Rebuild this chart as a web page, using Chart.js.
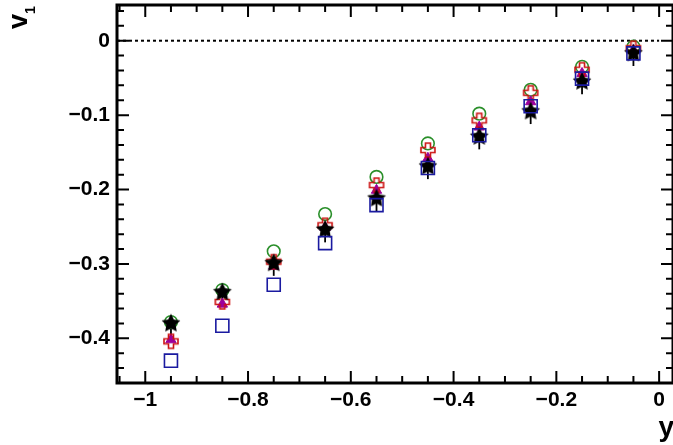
<!DOCTYPE html>
<html><head><meta charset="utf-8">
<script src="https://cdn.jsdelivr.net/npm/chart.js@4/dist/chart.umd.min.js"></script>
<style>html,body{margin:0;padding:0;background:#fff;overflow:hidden}</style>
</head><body>
<canvas id="c" width="673" height="445"></canvas>
<script>
// ---- data ----
const rapidity = [-0.95, -0.85, -0.75, -0.65, -0.55, -0.45, -0.35, -0.25, -0.15, -0.05];
const v1GreenCircle  = [-0.378, -0.335, -0.283, -0.233, -0.183, -0.138, -0.098, -0.066, -0.035, -0.008];
const v1RedCross     = [-0.404, -0.351, -0.297, -0.248, -0.194, -0.147, -0.107, -0.070, -0.039, -0.010];
const v1MagentaTri   = [-0.402, -0.354, -0.303, -0.251, -0.201, -0.158, -0.116, -0.082, -0.044, -0.013];
const v1BlackStar    = [-0.380, -0.338, -0.299, -0.254, -0.212, -0.169, -0.129, -0.095, -0.055, -0.017];
const v1BlackStarErrUp   = [0.008, 0.008, 0.008, 0.008, 0.008, 0.008, 0.008, 0.008, 0.008, 0.008];
const v1BlackStarErrDown = [0.017, 0.017, 0.017, 0.017, 0.017, 0.017, 0.017, 0.017, 0.017, 0.017];
const v1BlueSquare   = [-0.430, -0.383, -0.328, -0.272, -0.221, -0.171, -0.127, -0.088, -0.051, -0.017];
const xTickValues = [-1, -0.8, -0.6, -0.4, -0.2, 0];
const xTickLabels = ['\u22121', '\u22120.8', '\u22120.6', '\u22120.4', '\u22120.2', '0'];
const yTickValues = [0, -0.1, -0.2, -0.3, -0.4];
const yTickLabels = ['0', '\u22120.1', '\u22120.2', '\u22120.3', '\u22120.4'];
const X_MIN = -1.055, X_MAX = 0.027, Y_MIN = -0.460, Y_MAX = 0.048;
const zeroLineX = [X_MIN, 0];

const pts = (xs, ys) => xs.map((x, i) => ({x: x, y: ys[i]}));

// ---- marker images ----
function makeStar(R, r, color) {
  const s = Math.ceil(2 * R + 2);
  const cv = document.createElement('canvas'); cv.width = s; cv.height = s;
  const g = cv.getContext('2d'); const c = s / 2;
  g.beginPath();
  for (let k = 0; k < 10; k++) {
    const rad = (k % 2 === 0) ? R : r;
    const a = -Math.PI / 2 + k * Math.PI / 5;
    const px = c + rad * Math.cos(a), py = c + rad * Math.sin(a);
    if (k === 0) g.moveTo(px, py); else g.lineTo(px, py);
  }
  g.closePath(); g.fillStyle = color; g.fill();
  return cv;
}
function makeOpenCross(S, T, color, lw) {
  const s = S + 4;
  const cv = document.createElement('canvas'); cv.width = s; cv.height = s;
  const g = cv.getContext('2d'); const c = s / 2; const h = S / 2, t = T / 2;
  g.beginPath();
  const p = [[-t,-h],[t,-h],[t,-t],[h,-t],[h,t],[t,t],[t,h],[-t,h],[-t,t],[-h,t],[-h,-t],[-t,-t]];
  p.forEach((q, i) => { if (i === 0) g.moveTo(c + q[0], c + q[1]); else g.lineTo(c + q[0], c + q[1]); });
  g.closePath(); g.strokeStyle = color; g.lineWidth = lw; g.stroke();
  return cv;
}
const starImg = makeStar(9.8, 4.9, '#000');
const crossImg = makeOpenCross(14, 5, '#cc1111', 1.6);

const FONT = {family: '"Liberation Sans", Arial, Helvetica, sans-serif', size: 21, weight: 'bold'};

// ---- plugins ----
const errorBars = {
  id: 'errorBars',
  beforeDatasetsDraw(chart) {
    const ctx = chart.ctx, xs = chart.scales.x, ys = chart.scales.y;
    ctx.save(); ctx.strokeStyle = '#000'; ctx.lineWidth = 1.8;
    rapidity.forEach((x, i) => {
      const px = xs.getPixelForValue(x);
      ctx.beginPath();
      ctx.moveTo(px, ys.getPixelForValue(v1BlackStar[i] + v1BlackStarErrUp[i]));
      ctx.lineTo(px, ys.getPixelForValue(v1BlackStar[i] - v1BlackStarErrDown[i]));
      ctx.stroke();
    });
    ctx.restore();
  }
};

const frame = {
  id: 'frame',
  afterDraw(chart) {
    const ctx = chart.ctx, a = chart.chartArea, xs = chart.scales.x, ys = chart.scales.y;
    ctx.save();
    ctx.strokeStyle = '#000';
    ctx.lineWidth = 2;
    const MAJ = 12, MIN = 7;
    for (let k = Math.ceil(X_MIN / 0.05 - 1e-6); k * 0.05 <= X_MAX + 1e-9; k++) {
      const v = k * 0.05;
      const major = Math.abs(Math.round(v / 0.2) * 0.2 - v) < 1e-6;
      const L = major ? MAJ : MIN;
      const px = xs.getPixelForValue(v);
      ctx.beginPath();
      ctx.moveTo(px, a.bottom); ctx.lineTo(px, a.bottom - L);
      ctx.moveTo(px, a.top); ctx.lineTo(px, a.top + L);
      ctx.stroke();
    }
    for (let k = Math.ceil(Y_MIN / 0.02 - 1e-6); k * 0.02 <= Y_MAX + 1e-9; k++) {
      const v = k * 0.02;
      const major = Math.abs(Math.round(v / 0.1) * 0.1 - v) < 1e-6;
      const L = major ? MAJ : MIN;
      const py = ys.getPixelForValue(v);
      ctx.beginPath();
      ctx.moveTo(a.left, py); ctx.lineTo(a.left + L, py);
      ctx.moveTo(a.right, py); ctx.lineTo(a.right - L, py);
      ctx.stroke();
    }
    ctx.lineWidth = 3;
    ctx.strokeRect(a.left, a.top, a.right - a.left, a.bottom - a.top);
    ctx.fillStyle = '#000';
    ctx.font = 'bold 28px "Liberation Sans", Arial, sans-serif';
    ctx.textAlign = 'right'; ctx.textBaseline = 'alphabetic';
    ctx.fillText('y', 674, 436);
    ctx.save();
    ctx.translate(27, 29);
    ctx.rotate(-Math.PI / 2);
    ctx.textAlign = 'left';
    ctx.font = 'bold 27px "Liberation Sans", Arial, sans-serif';
    ctx.fillText('v', 0, 0);
    const w = ctx.measureText('v').width;
    ctx.font = 'bold 14px "Liberation Sans", Arial, sans-serif';
    ctx.fillText('1', w, 8);
    ctx.restore();
    ctx.restore();
  }
};

new Chart(document.getElementById('c'), {
  type: 'scatter',
  data: {
    datasets: [
      { label: 'zero', type: 'line', data: pts(zeroLineX, [0, 0]), borderColor: '#000', borderWidth: 2,
        borderDash: [3, 3], pointRadius: 0, fill: false, order: 10 },
      { label: 'green circle', data: pts(rapidity, v1GreenCircle), pointStyle: 'circle', pointRadius: 6.3,
        borderColor: '#2a8f2a', backgroundColor: 'rgba(0,0,0,0)', borderWidth: 1.6, order: 5 },
      { label: 'magenta triangle', data: pts(rapidity, v1MagentaTri), pointStyle: 'triangle', pointRadius: 6,
        borderColor: '#9c009c', backgroundColor: '#9c009c', borderWidth: 1, order: 4 },
      { label: 'red cross', data: pts(rapidity, v1RedCross), pointStyle: crossImg, pointRadius: 8,
        borderColor: '#cc1111', backgroundColor: '#cc1111', order: 3 },
      { label: 'black star', data: pts(rapidity, v1BlackStar), pointStyle: starImg, pointRadius: 10,
        borderColor: '#000', backgroundColor: '#000', order: 2 },
      { label: 'blue square', data: pts(rapidity, v1BlueSquare), pointStyle: 'rect', pointRadius: 9.2,
        borderColor: '#1a1aa0', backgroundColor: 'rgba(0,0,0,0)', borderWidth: 1.6, order: 1 }
    ]
  },
  options: {
    responsive: false, animation: false, devicePixelRatio: 1,
    layout: { autoPadding: false, padding: { left: 0, right: 0, top: 5, bottom: 0 } },
    plugins: { legend: { display: false }, tooltip: { enabled: false } },
    scales: {
      x: {
        type: 'linear', min: X_MIN, max: X_MAX,
        afterBuildTicks: s => { s.ticks = xTickValues.map(v => ({value: v})); },
        afterFit: s => { s.height = 62; s.paddingLeft = 0; s.paddingRight = 0; },
        ticks: { callback: (v, i) => xTickLabels[i], font: FONT, color: '#000', padding: 5,
                 maxRotation: 0, minRotation: 0, autoSkip: false },
        grid: { display: false, drawTicks: false }, border: { display: false }
      },
      y: {
        type: 'linear', min: Y_MIN, max: Y_MAX,
        afterBuildTicks: s => { s.ticks = yTickValues.map(v => ({value: v})); },
        afterFit: s => { s.width = 117; s.paddingTop = 0; s.paddingBottom = 0; },
        ticks: { callback: (v, i) => yTickLabels[i], font: FONT, color: '#000', padding: 7, autoSkip: false },
        grid: { display: false, drawTicks: false }, border: { display: false }
      }
    }
  },
  plugins: [errorBars, frame]
});
</script>
</body></html>
